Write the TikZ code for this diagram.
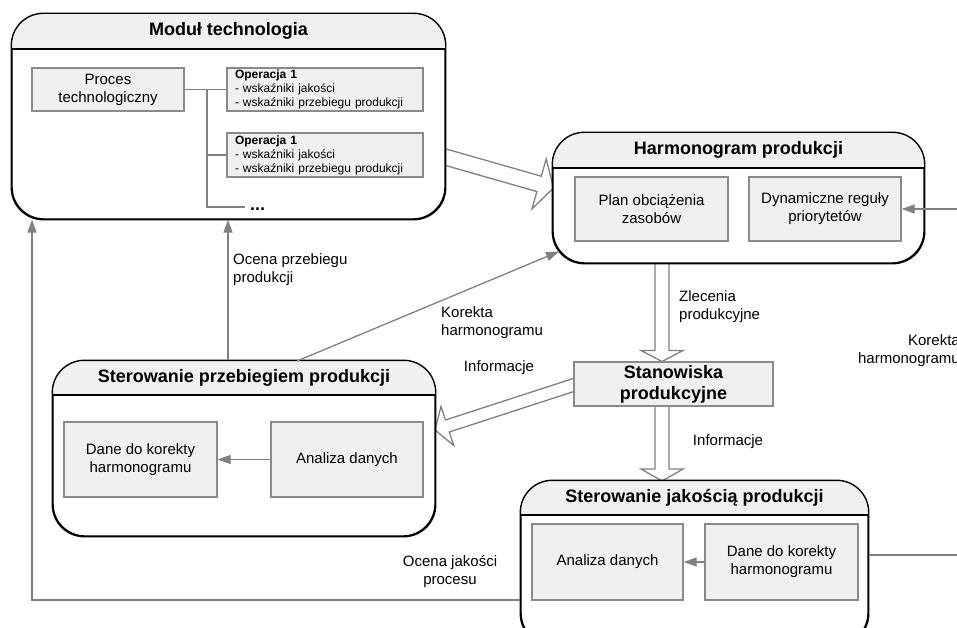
\documentclass[tikz,border=0pt]{standalone}
\usepackage{fontspec}
\setmainfont{Liberation Sans}
\usetikzlibrary{calc,fit,arrows.meta,backgrounds}

\definecolor{boxfill}{HTML}{F0F0F0}
\definecolor{linegray}{HTML}{808080}
\definecolor{boxedge}{HTML}{8A8A8A}

\tikzset{
  txt/.style={font=\fontsize{15}{18}\selectfont},
  ttl/.style={font=\fontsize{18}{21}\selectfont\bfseries},
  container/.style={draw=black, line width=1.4pt, rounded corners=32pt, fill=white, inner sep=0pt},
  inbox/.style={draw=boxedge, line width=1.3pt, fill=boxfill, align=center, txt, inner sep=2pt},
  conn/.style={draw=linegray, line width=1.3pt, -{Triangle[length=13pt,width=9pt]}},
  tree/.style={draw=linegray, line width=1.3pt},
  hollow/.style={draw=linegray, line width=1.3pt, fill=white, line join=miter},
  lbl/.style={txt, inner sep=0pt},
}

% rounded module frame with a shaded title band
% #1 name, #2 top-left, #3 bottom-right, #4 y of the band line, #5 title
\newcommand\container[5]{%
  \node[container, fit={(#2) (#3)}] (#1) {};
  \begin{scope}
    \clip[rounded corners=32pt] (#1.north west) rectangle (#1.south east);
    \fill[boxfill] (#1.north west) rectangle (#1.east |- 0,#4);
  \end{scope}
  \draw[line width=1.4pt] (#1.west |- 0,#4) -- (#1.east |- 0,#4);
  \draw[line width=1.4pt, rounded corners=32pt] (#1.north west) rectangle (#1.south east);
  \node[ttl] (#1-title) at ($(#1.north)!0.5!(#1.north |- 0,#4)$) {#5};
}

% wide outlined arrow: #1 tail, #2 tip, #3 half shaft, #4 half head, #5 head length
\newcommand\hollowarrow[5]{%
  \coordinate (ha-b) at ($(#2)!#5!(#1)$);
  \draw[hollow] ($(#1)!#3!90:(#2)$) -- ($(ha-b)!#3!90:(#2)$) -- ($(ha-b)!#4!90:(#2)$)
     -- (#2) -- ($(ha-b)!#4!-90:(#2)$) -- ($(ha-b)!#3!-90:(#2)$) -- ($(#1)!#3!-90:(#2)$);
}

\begin{document}
\begin{tikzpicture}[x=1pt, y=-1pt]
\useasboundingbox (0,0) rectangle (957,628);
\clip (0,0) rectangle (957,628);

% ---------- Moduł technologia ----------
\container{mod}{12,14}{445,219}{49}{Moduł technologia}
\node[inbox, minimum width=152pt, minimum height=43pt] (proc) at (108,89.5) {Proces\\technologiczny};
\node[inbox, align=left, text width=180pt, minimum width=196pt, minimum height=43pt,
      font=\fontsize{12}{14}\selectfont] (op1) at (325,89.5)
      {\textbf{Operacja 1}\\- wskaźniki jakości\\- wskaźniki przebiegu produkcji};
\node[inbox, align=left, text width=180pt, minimum width=196pt, minimum height=44pt,
      font=\fontsize{12}{14}\selectfont] (op2) at (325,155)
      {\textbf{Operacja 1}\\- wskaźniki jakości\\- wskaźniki przebiegu produkcji};
\coordinate (tv) at (207,207);
\coordinate (tend) at (245,207);
\draw[tree] (proc.east) -- (op1.west);
\draw[tree] (tv |- op1.west) -- (tv) -- (tend);
\draw[tree] (tv |- op2.west) -- (op2.west);
\node[ttl, anchor=base west, inner sep=0pt] (dots) at (250,211) {...};

% ---------- Harmonogram produkcji ----------
\container{harm}{553,133}{924,263}{168}{Harmonogram produkcji}
\node[inbox, minimum width=153pt, minimum height=64pt] (plan) at (651.5,209) {Plan obciążenia\\zasobów};
\node[inbox, minimum width=152pt, minimum height=64pt] (dyn) at (825,209) {Dynamiczne reguły\\priorytetów};

% ---------- Stanowiska produkcyjne ----------
\node[inbox, minimum width=199pt, minimum height=44pt,
      font=\fontsize{18}{21}\selectfont\bfseries] (stan) at (673.5,384) {Stanowiska\\produkcyjne};

% ---------- Sterowanie przebiegiem produkcji ----------
\container{ster}{53,361}{435,536}{395}{Sterowanie przebiegiem produkcji}
\node[inbox, minimum width=153pt, minimum height=75pt] (dane1) at (140.5,459.5) {Dane do korekty\\harmonogramu};
\node[inbox, minimum width=152pt, minimum height=75pt] (anal1) at (347,459.5) {Analiza danych};

% ---------- Sterowanie jakością produkcji ----------
\container{jak}{521,481}{868,645}{515}{Sterowanie jakością produkcji}
\node[inbox, minimum width=151pt, minimum height=76pt] (anal2) at (607.5,562) {Analiza danych};
\node[inbox, minimum width=153pt, minimum height=76pt] (dane2) at (781.5,562) {Dane do korekty\\harmonogramu};

% ---------- wide flow arrows (behind the frames) ----------
\begin{scope}[on background layer]
  \coordinate (h1a) at (431,153);   \coordinate (h1b) at (553.5,188);
  \hollowarrow{h1a}{h1b}{8pt}{26pt}{15pt}
  \coordinate (h2a) at (662,250);   \coordinate (h2b) at (662,361.5);
  \hollowarrow{h2a}{h2b}{7pt}{21pt}{11pt}
  \coordinate (h3a) at (662,395);   \coordinate (h3b) at (662,481);
  \hollowarrow{h3a}{h3b}{7pt}{21pt}{12pt}
  \coordinate (h4a) at (589,380);   \coordinate (h4b) at (435,430);
  \hollowarrow{h4a}{h4b}{6.3pt}{20.5pt}{13pt}
\end{scope}

% ---------- thin connectors ----------
\draw[conn] (anal1.west) -- (dane1.east);
\draw[conn] (dane2.west) -- (anal2.east);

\coordinate (lq) at (32,600);
\draw[conn] (jak.west |- lq) -- (lq) -- (lq |- mod.south);

\coordinate (pv) at (228,300);
\draw[conn] (ster.north -| pv) -- (mod.south -| pv);

\coordinate (kb) at (297,361);
\coordinate (kt) at (559,251.5);
\draw[conn] (kb) -- (kt);

\coordinate (rr) at (990,400);
\draw[conn] (jak.east |- 0,555) -- (rr |- 0,555) -- (rr |- dyn.east) -- (dyn.east);

% ---------- labels ----------
\node[lbl, align=left, anchor=west] (l1) at (233,270) {Ocena przebiegu\\produkcji};
\node[lbl, align=left, anchor=west] (l2) at (441,323) {Korekta\\harmonogramu};
\node[lbl, align=left, anchor=west] (l3) at (679,307) {Zlecenia\\produkcyjne};
\node[lbl] (l4) at (499,368) {Informacje};
\node[lbl] (l5) at (728,442) {Informacje};
\node[lbl, align=right, anchor=east] (l6) at (960,351) {Korekta\\harmonogramu};
\node[lbl, align=center] (l7) at (450,572) {Ocena jakości\\procesu};

\end{tikzpicture}
\end{document}
